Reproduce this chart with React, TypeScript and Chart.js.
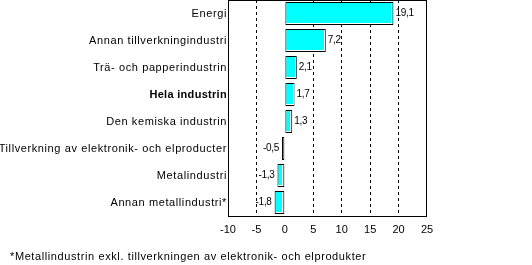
import React, { useEffect, useRef } from "react";
import { Chart, registerables } from "chart.js";

Chart.register(...registerables);

const categories = [
  "Energi",
  "Annan tillverkningindustri",
  "Trä- och papperindustrin",
  "Hela industrin",
  "Den kemiska industrin",
  "Tillverkning av elektronik- och elproducter",
  "Metalindustri",
  "Annan metallindustri*",
];
const values = [19.1, 7.2, 2.1, 1.7, 1.3, -0.5, -1.3, -1.8];
const boldCategory = "Hela industrin";
const xMin = -10;
const xMax = 25;
const xStep = 5;
const dashedAt = [-5, 5, 10, 15, 20];
const footnote = "*Metallindustrin exkl. tillverkningen av elektronik- och elprodukter";

const FONT = "'Liberation Sans', Arial, sans-serif";

export default function App() {
  const ref = useRef<HTMLCanvasElement | null>(null);
  useEffect(() => {
    if (!ref.current) return;
    const boxPlugin = {
      id: "box",
      beforeDatasetsDraw(chart: any) {
        const { ctx, chartArea: a } = chart;
        ctx.save();
        ctx.strokeStyle = "#000";
        ctx.lineWidth = 1;
        const l = Math.round(a.left) + 0.5;
        const t = Math.round(a.top) + 0.5;
        const r = Math.round(a.right) - 0.5;
        const b = Math.round(a.bottom) + 0.5;
        ctx.strokeRect(l, t, r - l, b - t);
        ctx.restore();
      },
    };
    const textPlugin = {
      id: "texts",
      afterDatasetsDraw(chart: any) {
        const { ctx } = chart;
        const meta = chart.getDatasetMeta(0);
        ctx.save();
        // white inner highlight on right and bottom of each bar
        ctx.strokeStyle = "#fff";
        ctx.lineWidth = 1;
        meta.data.forEach((el: any) => {
          const p = el.getProps(["x", "y", "base", "height"], true);
          const left = Math.min(p.x, p.base);
          const right = Math.max(p.x, p.base);
          const top = p.y - p.height / 2;
          const bottom = p.y + p.height / 2;
          const rx = Math.round(right) - 1.5;
          const by = Math.round(bottom) - 1.5;
          if (rx - left > 2) {
            ctx.beginPath();
            ctx.moveTo(rx, Math.round(top) + 1);
            ctx.lineTo(rx, by + 0.5);
            ctx.moveTo(Math.round(left) + 1, by);
            ctx.lineTo(rx + 0.5, by);
            ctx.stroke();
          }
        });
        // value labels
        ctx.font = `10px ${FONT}`;
        (ctx as any).letterSpacing = "-0.3px";
        ctx.fillStyle = "#000";
        ctx.textBaseline = "middle";
        meta.data.forEach((el: any, i: number) => {
          const v = values[i];
          const txt = v.toFixed(1).replace(".", ",");
          if (v >= 0) {
            ctx.textAlign = "left";
            ctx.fillText(txt, el.x + 2, el.y);
          } else {
            ctx.textAlign = "right";
            ctx.fillText(txt, el.x - 3, el.y);
          }
        });
        ctx.restore();
      },
      afterDraw(chart: any) {
        const { ctx } = chart;
        const ys = chart.scales.y;
        ctx.save();
        ctx.fillStyle = "#000";
        ctx.textBaseline = "middle";
        ctx.textAlign = "right";
        categories.forEach((c, i) => {
          const bold = c === boldCategory;
          ctx.font = `${bold ? "bold " : ""}11px ${FONT}`;
          (ctx as any).letterSpacing = bold ? "0.3px" : "0.6px";
          ctx.fillText(c, 227, ys.getPixelForValue(i));
        });
        ctx.font = `11px ${FONT}`;
        (ctx as any).letterSpacing = "0.6px";
        ctx.textAlign = "left";
        ctx.fillText(footnote, 10, 257);
        ctx.restore();
      },
    };
    const chart = new Chart(ref.current, {
      type: "bar",
      data: {
        labels: categories,
        datasets: [
          {
            data: values,
            backgroundColor: "#00FFFF",
            borderColor: "#000",
            borderWidth: 1,
            borderSkipped: false,
            barPercentage: 0.85,
            categoryPercentage: 1,
          },
        ],
      },
      options: {
        indexAxis: "y",
        animation: false,
        responsive: false,
        maintainAspectRatio: false,
        layout: { padding: { left: 0, top: 0, right: 105, bottom: 0 } },
        plugins: { legend: { display: false }, tooltip: { enabled: false } },
        scales: {
          x: {
            type: "linear",
            min: xMin,
            max: xMax,
            ticks: {
              stepSize: xStep,
              color: "#000",
              font: { family: FONT, size: 11 },
              padding: 7,
            },
            grid: {
              drawTicks: false,
              color: (c: any) => (dashedAt.includes(c.tick?.value) ? "#000" : "rgba(0,0,0,0)"),
              lineWidth: 1,
            },
            border: { display: false, dash: [3, 3] },
            afterFit: (s: any) => {
              s.height = 49;
            },
          },
          y: {
            ticks: { display: false },
            grid: { display: false, drawTicks: false },
            border: { display: false },
            afterFit: (s: any) => {
              s.width = 228;
            },
          },
        },
      },
      plugins: [boxPlugin, textPlugin],
    } as any);
    return () => chart.destroy();
  }, []);
  return (
    <div style={{ position: "fixed", left: 0, top: 0, width: 532, height: 265, background: "#fff" }}>
      <canvas ref={ref} width={532} height={265} style={{ width: 532, height: 265 }} />
    </div>
  );
}
